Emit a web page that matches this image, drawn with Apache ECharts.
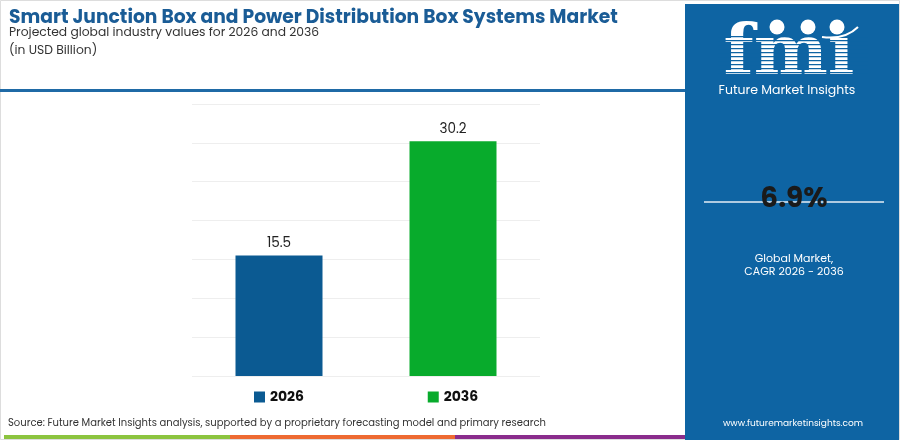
<!DOCTYPE html>
<html>
<head>
<meta charset="utf-8">
<script src="https://cdn.jsdelivr.net/npm/echarts@6/dist/echarts.min.js"></script>
<style>
html,body{margin:0;padding:0;background:#fff;}
#chart{width:900px;height:440px;}
</style>
</head>
<body>
<div id="chart"></div>
<script>
const categories = ['2026', '2036'];
const values = [15.5, 30.2];
const barColors = ['#0b5a92', '#08ab2c'];
const yTicks = { min: 0, max: 35, interval: 5 };
const titleText = 'Smart Junction Box and Power Distribution Box Systems Market';
const subtitleText = 'Projected global industry values for 2026 and 2036';
const unitText = '(in USD Billion)';
const cagrText = '6.9%';
const sourceText = 'Source: Future Market Insights analysis, supported by a proprietary forecasting model and primary research';

const FONT = 'Poppins, "Open Sans", Lato, sans-serif';
const PANEL = '#0e64a3';
const chart = echarts.init(document.getElementById('chart'), null, { renderer: 'canvas' });

const rich = {};
categories.forEach((c, i) => {
  rich['sq' + i] = { backgroundColor: barColors[i], width: 11, height: 11 };
});
rich.t = { fontSize: 14, fontWeight: 'bold', color: '#111', fontFamily: FONT, padding: [0, 0, 0, 5] };

const stripes = [];
for (let y = 36; y <= 74; y += 4) {
  stripes.push({ type: 'rect', shape: { x: 718, y: y, width: 150, height: 1.3 }, style: { fill: PANEL } });
}

chart.setOption({
  backgroundColor: '#ffffff',
  animation: false,
  grid: { left: 192, right: 360, top: 104, bottom: 64 },
  xAxis: {
    type: 'category',
    data: categories,
    axisLine: { show: false },
    axisTick: { show: false },
    axisLabel: {
      margin: 14,
      formatter: (v, i) => '{sq' + i + '|}{t|' + v + '}',
      rich: rich
    }
  },
  yAxis: {
    type: 'value',
    min: yTicks.min, max: yTicks.max, interval: yTicks.interval,
    axisLabel: { show: false },
    axisLine: { show: false },
    axisTick: { show: false },
    splitLine: { lineStyle: { color: '#eeeeee', width: 1 } }
  },
  series: [{
    type: 'bar',
    data: values.map((v, i) => ({ value: v, itemStyle: { color: barColors[i] } })),
    barWidth: '50%',
    label: {
      show: true, position: 'top', distance: 5,
      fontSize: 13.5, color: '#222', fontFamily: FONT
    }
  }],
  graphic: [
    { type: 'rect', shape: { x: 0.5, y: 0.5, width: 899, height: 439 }, style: { fill: 'none', stroke: '#dddddd', lineWidth: 1 }, silent: true },
    { type: 'text', left: 9, top: 9, style: { text: titleText, fill: '#1a5c96', font: 'bold 18.7px ' + FONT } },
    { type: 'text', left: 9, top: 27, style: { text: subtitleText, fill: '#333', font: '12.3px ' + FONT } },
    { type: 'text', left: 9, top: 45, style: { text: unitText, fill: '#333', font: '12.3px ' + FONT } },
    { type: 'rect', shape: { x: 0, y: 89, width: 686, height: 3 }, style: { fill: '#1f6aa6' } },
    { type: 'rect', shape: { x: 685, y: 4, width: 214, height: 436 }, style: { fill: PANEL } },
    // logo
    { type: 'text', x: 789, y: 56, style: { text: 'fm\u0131', fill: '#ffffff', font: 'bold 70px "DejaVu Serif", serif', align: 'center', verticalAlign: 'middle' } },
    ...stripes,
    { type: 'bezierCurve', shape: { x1: 822, y1: 37, x2: 858, y2: 27, cpx1: 845, cpy1: 40 }, style: { stroke: '#ffffff', lineWidth: 2, fill: 'none' } },
    { type: 'circle', shape: { cx: 777, cy: 27, r: 7.5 }, style: { fill: '#ffffff' } },
    { type: 'circle', shape: { cx: 808, cy: 27, r: 7.5 }, style: { fill: '#ffffff' } },
    { type: 'circle', shape: { cx: 837, cy: 27, r: 7.5 }, style: { fill: '#ffffff' } },
    { type: 'text', x: 787, y: 91, style: { text: 'Future Market Insights', fill: '#ffffff', font: '12.5px ' + FONT, align: 'center', verticalAlign: 'middle' } },
    // cagr
    { type: 'line', shape: { x1: 704, y1: 202, x2: 884, y2: 202 }, style: { stroke: '#e6eef6', lineWidth: 1.5 } },
    { type: 'text', x: 794, y: 200, style: { text: cagrText, fill: '#1a1a1a', font: 'bold 28px ' + FONT, align: 'center', verticalAlign: 'middle' } },
    { type: 'text', x: 794, y: 259, style: { text: 'Global Market,', fill: '#ffffff', font: '11px ' + FONT, align: 'center', verticalAlign: 'middle' } },
    { type: 'text', x: 794, y: 272, style: { text: 'CAGR 2026 - 2036', fill: '#ffffff', font: '11px ' + FONT, align: 'center', verticalAlign: 'middle' } },
    { type: 'text', x: 793, y: 424, style: { text: 'www.futuremarketinsights.com', fill: '#ffffff', font: '9px ' + FONT, align: 'center', verticalAlign: 'middle' } },
    { type: 'text', left: 8, top: 418, style: { text: sourceText, fill: '#333', font: '10px ' + FONT } },
    { type: 'rect', shape: { x: 4, y: 435, width: 226, height: 4 }, style: { fill: '#8cc43f' } },
    { type: 'rect', shape: { x: 230, y: 435, width: 225, height: 4 }, style: { fill: '#ee6a32' } },
    { type: 'rect', shape: { x: 455, y: 435, width: 230, height: 4 }, style: { fill: '#8a2c8c' } }
  ]
});
</script>
</body>
</html>
